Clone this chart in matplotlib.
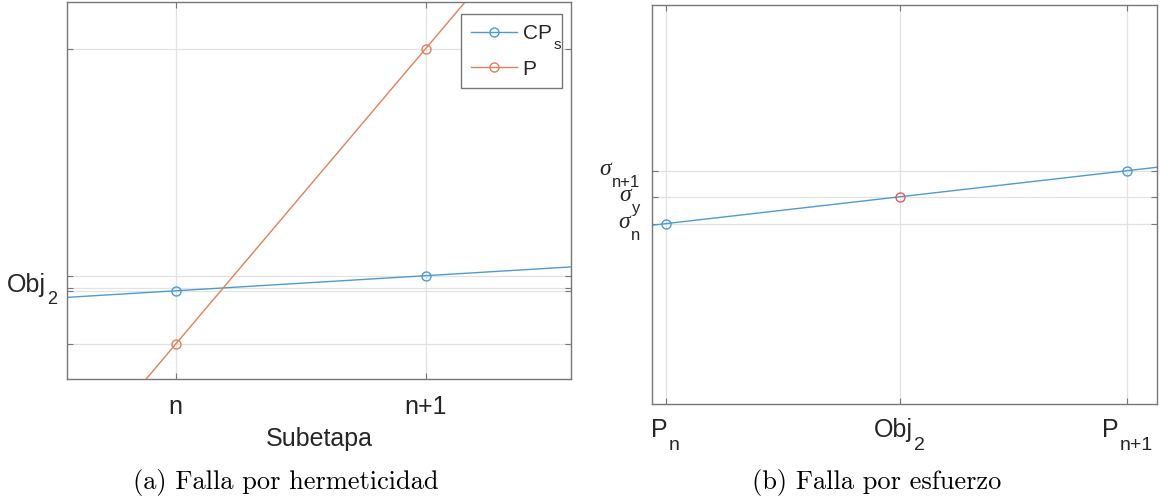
import numpy as np
import matplotlib
matplotlib.use("Agg")
import matplotlib.pyplot as plt
from matplotlib import transforms as mtrans
from matplotlib.font_manager import FontProperties

plt.rcParams['font.family'] = ['Liberation Sans', 'DejaVu Sans']
plt.rcParams['mathtext.fontset'] = 'custom'
plt.rcParams['mathtext.rm'] = 'Liberation Sans'
plt.rcParams['mathtext.sf'] = 'Liberation Sans'
plt.rcParams['mathtext.it'] = 'Liberation Serif:italic'

# ---- data: panel (a) ----
subetapa_x = [0, 1]
subetapa_labels = ['n', 'n+1']
cps_vals = [2.344, 2.744]
p_vals = [0.935, 8.76]
obj2_val = 2.405
ylim_a = [0, 10]
xlim_a = [-0.434, 1.581]

# ---- data: panel (b) ----
p_x = [0, 0.507, 1]
p_x_labels = [('P', 'n'), ('Obj', '2'), ('P', 'n+1')]
sigma_vals = [4.52, 5.847]
sigma_y = 5.196
sigma_labels = [('σ', 'n'), ('σ', 'y'), ('σ', 'n+1')]
ylim_b = [0, 10]
xlim_b = [-0.029, 1.065]

blue = '#4f9bd1'
orange = '#e0805c'
red = '#e45a5a'
spine_c = '#777777'
grid_c = '#e2e2e2'
txt_c = '#262626'
fs = 18
leg_fs = 15

fig = plt.figure(figsize=(11.68, 5.03), dpi=100)
axA = fig.add_axes([67.3/1168, 1-379.3/503, (571-67.3)/1168, (379.3-1.7)/503])
axB = fig.add_axes([652.3/1168, 1-404/503, (1157-652.3)/1168, (404-5)/503])
renderer = fig.canvas.get_renderer()


def text_width(s, **kw):
    t = fig.text(0, 0, s, **kw)
    w = t.get_window_extent(renderer).width
    t.remove()
    return w


def sub_label(ax, x, y, trans, base, sub, base_kw, sub_kw, ha, dx, dy, drop, gap=1.0):
    w1 = text_width(base, **base_kw)
    w2 = text_width(sub, **sub_kw)
    tot = w1 + gap + w2
    x1 = dx - tot / 2 if ha == 'center' else dx - tot
    t1 = mtrans.offset_copy(trans, fig=fig, x=x1, y=dy, units='dots')
    t2 = mtrans.offset_copy(trans, fig=fig, x=x1 + w1 + gap, y=dy - drop, units='dots')
    ax.text(x, y, base, transform=t1, ha='left', va='baseline', clip_on=False, **base_kw)
    ax.text(x, y, sub, transform=t2, ha='left', va='baseline', clip_on=False, **sub_kw)


def style(ax):
    for s in ax.spines.values():
        s.set_color(spine_c)
        s.set_linewidth(1.0)
    ax.tick_params(direction='in', length=4, width=0.8, color=spine_c,
                   top=True, right=True, labelsize=fs, labelcolor=txt_c, pad=11)
    ax.grid(True, color=grid_c, linewidth=0.9)
    ax.set_axisbelow(True)


def extend(x, y, xl):
    c = np.polyfit(x, y, 1)
    xs = np.array(xl)
    return xs, np.polyval(c, xs)


sans_main = dict(family='Liberation Sans', fontsize=fs, color=txt_c)

# ---------------- panel (a) ----------------
style(axA)
xs, ys = extend(subetapa_x, cps_vals, xlim_a)
axA.plot(xs, ys, color=blue, lw=1.0)
xs, ys = extend(subetapa_x, p_vals, xlim_a)
axA.plot(xs, ys, color=orange, lw=1.0)
axA.plot(subetapa_x, cps_vals, 'o', mfc='none', mec=blue, ms=6.5, mew=1.0)
axA.plot(subetapa_x, p_vals, 'o', mfc='none', mec=orange, ms=6.5, mew=1.0)
h1, = axA.plot([], [], '-o', color=blue, mfc='none', ms=6.5, lw=1.0)
h2, = axA.plot([], [], '-o', color=orange, mfc='none', ms=6.5, lw=1.0)
leg = axA.legend([h1, h2], [r'CP$\quad$', 'P'], loc='upper right',
                 bbox_to_anchor=(0.982, 0.967), fontsize=leg_fs, fancybox=False,
                 framealpha=1, edgecolor=spine_c, handlelength=2.2,
                 borderpad=0.47, labelspacing=0.8, handletextpad=0.25, borderaxespad=0)
leg.get_frame().set_linewidth(1.0)
for t in leg.get_texts():
    t.set_color(txt_c)
w_cp = text_width('CP', family='Liberation Sans', fontsize=leg_fs)
lp_d = renderer.get_text_width_height_descent(
    'lp', FontProperties(family='Liberation Sans', size=leg_fs), ismath=False)[2]
axA.annotate('s', xy=(0, 0), xycoords=leg.get_texts()[0],
             xytext=(w_cp + 2, lp_d - 10), textcoords='offset pixels',
             ha='left', va='baseline', fontsize=11, color=txt_c,
             zorder=10, annotation_clip=False)

axA.set_xlim(xlim_a)
axA.set_ylim(ylim_a)
axA.set_xticks(subetapa_x)
axA.set_xticklabels(subetapa_labels)
yt = sorted(p_vals + cps_vals + [obj2_val])
axA.set_yticks(yt)
axA.set_yticklabels(['' for v in yt])
sub_label(axA, 0, obj2_val, axA.get_yaxis_transform(), 'Obj', '2',
          sans_main, dict(family='Liberation Sans', fontsize=13, color=txt_c),
          'right', -10.6, -3.2, 12.3)
axA.set_xlabel('Subetapa', fontsize=fs, color=txt_c, labelpad=6)

# ---------------- panel (b) ----------------
style(axB)
xs, ys = extend([p_x[0], p_x[2]], sigma_vals, xlim_b)
axB.plot(xs, ys, color=blue, lw=1.0)
axB.plot([p_x[0], p_x[2]], sigma_vals, 'o', mfc='none', mec=blue, ms=6.5, mew=1.0)
axB.plot([p_x[1]], [sigma_y], 'o', mfc='none', mec=red, ms=6.5, mew=1.0)
axB.set_xlim(xlim_b)
axB.set_ylim(ylim_b)
axB.set_xticks(p_x)
axB.set_xticklabels(['' for _ in p_x])
for xv, (b, s) in zip(p_x, p_x_labels):
    sub_label(axB, xv, 0, axB.get_xaxis_transform(), b, s,
              sans_main, dict(family='Liberation Sans', fontsize=14, color=txt_c),
              'center', 0, -32.7, 13.3)
yv = [sigma_vals[0], sigma_y, sigma_vals[1]]
axB.set_yticks(yv)
axB.set_yticklabels(['' for _ in yv])
for v, (b, s) in zip(yv, sigma_labels):
    sub_label(axB, 0, v, axB.get_yaxis_transform(), b, s,
              dict(family='Liberation Serif', style='italic', fontsize=17, color=txt_c),
              dict(family='Liberation Sans', fontsize=12, color=txt_c),
              'right', -12.0, -4.5, 11.7, gap=1.5)

# captions
cap_font = dict(family='cmr10', fontsize=19, color='black')
fig.text(286/1168, 1-483/503, '(a) Falla por hermeticidad', ha='center', va='center', **cap_font)
fig.text(877/1168, 1-483/503, '(b) Falla por esfuerzo', ha='center', va='center', **cap_font)

fig.savefig('out.png', dpi=100)
